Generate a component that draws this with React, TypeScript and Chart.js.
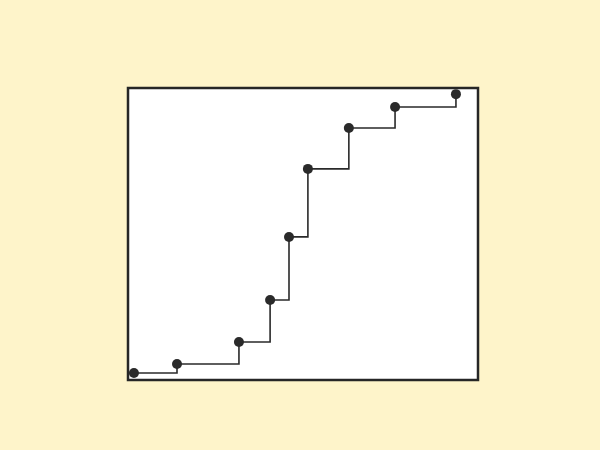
import React, { useEffect, useRef } from "react";
import { Chart, registerables } from "chart.js";

Chart.register(...registerables);

const xValues = [1.7, 14, 31.7, 40.6, 46, 51.4, 63.1, 76.3, 93.7];
const yValues = [2.4, 5.5, 13, 27.4, 49, 72.3, 86.3, 93.5, 97.9];

const boxPlugin = {
  id: "boxPlugin",
  beforeDraw(chart: any) {
    const { ctx, chartArea } = chart;
    const { left, top, right, bottom } = chartArea;
    ctx.save();
    ctx.fillStyle = "#ffffff";
    ctx.fillRect(left, top, right - left, bottom - top);
    ctx.restore();
  },
  afterDraw(chart: any) {
    const { ctx, chartArea } = chart;
    const { left, top, right, bottom } = chartArea;
    ctx.save();
    ctx.strokeStyle = "#262626";
    ctx.lineWidth = 2.5;
    ctx.strokeRect(left, top, right - left, bottom - top);
    ctx.restore();
  },
};

export default function App() {
  const ref = useRef<HTMLCanvasElement | null>(null);
  useEffect(() => {
    if (!ref.current) return;
    const data = xValues.map((x, i) => ({ x, y: yValues[i] }));
    const chart = new Chart(ref.current, {
      type: "line",
      data: {
        datasets: [
          {
            data,
            stepped: true,
            borderColor: "#2a2a2a",
            borderWidth: 1.6,
            pointBackgroundColor: "#2a2a2a",
            pointBorderColor: "#2a2a2a",
            pointRadius: 5,
            pointBorderWidth: 0,
            fill: false,
            clip: false as any,
          },
        ],
      },
      options: {
        animation: false,
        responsive: false,
        layout: { padding: { left: 128, top: 88, right: 122, bottom: 70 } },
        plugins: { legend: { display: false }, tooltip: { enabled: false } },
        scales: {
          x: { type: "linear", min: 0, max: 100, display: false },
          y: { type: "linear", min: 0, max: 100, display: false },
        },
      },
      plugins: [boxPlugin],
    });
    return () => chart.destroy();
  }, []);
  return (
    <div style={{ position: "fixed", left: 0, top: 0, width: 600, height: 450, background: "#fef4ca" }}>
      <canvas ref={ref} width={600} height={450} style={{ display: "block" }} />
    </div>
  );
}
